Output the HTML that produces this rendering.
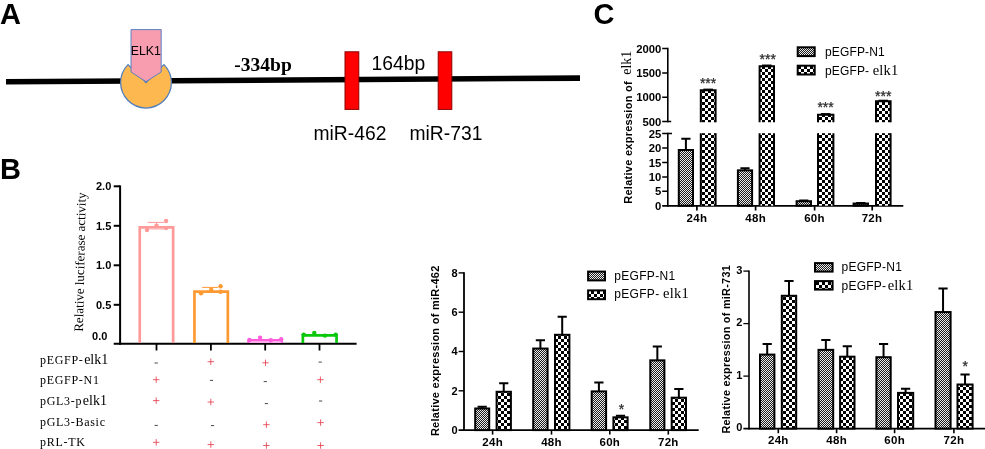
<!DOCTYPE html>
<html><head><meta charset="utf-8"><title>figure</title>
<style>
html,body{margin:0;padding:0;background:#fff;}
body{width:985px;height:449px;overflow:hidden;font-family:"Liberation Sans",sans-serif;}
svg{display:block;will-change:transform;}
text{font-family:"Liberation Sans",sans-serif;fill:#000;}
.b{font-weight:bold;}
.sf{font-family:"Liberation Serif",serif;}
</style></head><body>
<svg width="985" height="449" viewBox="0 0 985 449">
<defs>
<pattern id="chk" width="6" height="6" patternUnits="userSpaceOnUse">
<rect width="6" height="6" fill="#fff"/><rect x="0" y="0" width="3" height="3" fill="#000"/><rect x="3" y="3" width="3" height="3" fill="#000"/>
</pattern>
<pattern id="dot" width="2" height="2" patternUnits="userSpaceOnUse">
<rect width="2" height="2" fill="#1c1c1c"/><rect x="0" y="0" width="1" height="1" fill="#ececec"/><rect x="1" y="1" width="1" height="1" fill="#ececec"/>
</pattern>
</defs>
<rect width="985" height="449" fill="#fff"/>

<text class="b" x="0" y="24.2" font-size="29">A</text>
<text class="b" x="0" y="178.7" font-size="29">B</text>
<text class="b" x="593.5" y="24.3" font-size="29">C</text>
<line x1="6" y1="81.8" x2="580" y2="78.1" stroke="#000" stroke-width="5.6"/>
<path d="M146,82.6 L128.04,64.64 A25.4,25.4 0 1 0 163.96,64.64 Z" fill="#FDB94F" stroke="#4F7DBE" stroke-width="1.25"/>
<polygon points="131,29.6 161.2,29.6 161.2,72 146,81.7 131,72" fill="#F79DAF" stroke="#5B82C0" stroke-width="1"/>
<text x="130.7" y="55" font-size="12.3">ELK1</text>
<text class="sf b" x="234.3" y="70.8" font-size="19.5">-334bp</text>
<text x="371.5" y="70.2" font-size="19.3">164bp</text>
<rect x="345" y="51.8" width="13.8" height="57.6" fill="#FF0000" stroke="#8A0000" stroke-width="1"/>
<rect x="438.2" y="51.8" width="13.6" height="57.6" fill="#FF0000" stroke="#8A0000" stroke-width="1"/>
<text x="313.5" y="140.3" font-size="19.3">miR-462</text>
<text x="409.5" y="140.3" font-size="19.3">miR-731</text>
<line x1="120.1" y1="185.4" x2="120.1" y2="344.8" stroke="#000" stroke-width="2"/>
<line x1="113.7" y1="343.85" x2="356.6" y2="343.85" stroke="#000" stroke-width="2"/>
<line x1="113.7" y1="186.3" x2="120" y2="186.3" stroke="#000" stroke-width="2"/>
<text class="b" x="111.3" y="190.2" font-size="11" text-anchor="end">2.0</text>
<line x1="113.7" y1="225.8" x2="120" y2="225.8" stroke="#000" stroke-width="2"/>
<text class="b" x="111.3" y="229.7" font-size="11" text-anchor="end">1.5</text>
<line x1="113.7" y1="265.3" x2="120" y2="265.3" stroke="#000" stroke-width="2"/>
<text class="b" x="111.3" y="269.2" font-size="11" text-anchor="end">1.0</text>
<line x1="113.7" y1="304.8" x2="120" y2="304.8" stroke="#000" stroke-width="2"/>
<text class="b" x="111.3" y="308.7" font-size="11" text-anchor="end">0.5</text>
<text class="b" x="107.4" y="339.6" font-size="11" text-anchor="end">0.0</text>
<line x1="156.5" y1="344" x2="156.5" y2="350.5" stroke="#000" stroke-width="1.8"/>
<line x1="210.9" y1="344" x2="210.9" y2="350.5" stroke="#000" stroke-width="1.8"/>
<line x1="265.2" y1="344" x2="265.2" y2="350.5" stroke="#000" stroke-width="1.8"/>
<line x1="319.5" y1="344" x2="319.5" y2="350.5" stroke="#000" stroke-width="1.8"/>
<text class="sf" transform="translate(82.9,331.8) rotate(-88.8)" font-size="13" >Relative luciferase activity</text>
<path d="M139.75,343 V227.35 H173.15 V343" fill="none" stroke="#FF9A9A" stroke-width="2.7"/>
<path d="M147.6,222.4 H164 M156.5,222.4 V227" stroke="#FF9A9A" stroke-width="1" fill="none"/>
<path d="M147.6,229.4 H164" stroke="#FFD0D0" stroke-width="1" fill="none"/>
<circle cx="147" cy="230" r="2.2" fill="#FF9A9A"/>
<circle cx="156.5" cy="225.6" r="2.2" fill="#FF9A9A"/>
<circle cx="166.1" cy="221" r="2.2" fill="#FF9A9A"/>
<circle cx="166.1" cy="228" r="2.2" fill="#FF9A9A"/>
<path d="M194.45,343 V291.55 H227.85 V343" fill="none" stroke="#FF9A33" stroke-width="2.7"/>
<path d="M202.1,287.4 H218.2 M211.2,287.4 V291" stroke="#FF9A33" stroke-width="1" fill="none"/>
<circle cx="201.1" cy="293.2" r="2.2" fill="#FF9A33"/>
<circle cx="211.2" cy="289.8" r="2.2" fill="#FF9A33"/>
<circle cx="220.6" cy="286.2" r="2.2" fill="#FF9A33"/>
<circle cx="220.6" cy="291.8" r="2.2" fill="#FF9A33"/>
<path d="M248.65,343 V340.25 H281.65 V343" fill="none" stroke="#FF5CDC" stroke-width="2.7"/>
<rect x="249" y="341.3" width="32.3" height="1.6" fill="#FFA8EC"/>
<circle cx="249.5" cy="340" r="2.2" fill="#FF5CDC"/>
<circle cx="260.1" cy="337.8" r="2.2" fill="#FF5CDC"/>
<circle cx="270.7" cy="340.2" r="2.2" fill="#FF5CDC"/>
<circle cx="281.2" cy="339.2" r="2.2" fill="#FF5CDC"/>
<path d="M302.85,343 V335.35 H336.55 V343" fill="none" stroke="#0CC80C" stroke-width="2.7"/>
<circle cx="303.7" cy="334.6" r="2.2" fill="#0CC80C"/>
<circle cx="314.3" cy="332.9" r="2.2" fill="#0CC80C"/>
<circle cx="324.9" cy="335.6" r="2.2" fill="#0CC80C"/>
<circle cx="335.7" cy="334.6" r="2.2" fill="#0CC80C"/>
<text class="sf" x="40" y="364.2" font-size="12" letter-spacing="0.7">pEGFP-<tspan font-size="14" letter-spacing="0" dx="0.6">elk1</tspan></text>
<text class="sf" x="40" y="384.4" font-size="12" letter-spacing="0.7">pEGFP-N1</text>
<text class="sf" x="40" y="404.7" font-size="12" letter-spacing="0.7">pGL3-p<tspan font-size="14" letter-spacing="0" dx="0.6">elk1</tspan></text>
<text class="sf" x="40" y="425.6" font-size="12" letter-spacing="0.7">pGL3-Basic</text>
<text class="sf" x="40" y="446.4" font-size="12" letter-spacing="0.7">pRL-TK</text>
<path d="M154.6,363 H157.8" stroke="#333" stroke-width="0.9" fill="none"/>
<path d="M153.0,379.7 H159.4 M156.2,376.5 V382.9" stroke="#E5404E" stroke-width="0.85" fill="none"/>
<path d="M153.0,400.6 H159.4 M156.2,397.4 V403.8" stroke="#E5404E" stroke-width="0.85" fill="none"/>
<path d="M154.6,425.4 H157.8" stroke="#333" stroke-width="0.9" fill="none"/>
<path d="M153.0,442.3 H159.4 M156.2,439.1 V445.5" stroke="#E5404E" stroke-width="0.85" fill="none"/>
<path d="M207.6,361.7 H214.0 M210.8,358.5 V364.9" stroke="#E5404E" stroke-width="0.85" fill="none"/>
<path d="M209.9,380.4 H213.1" stroke="#333" stroke-width="0.9" fill="none"/>
<path d="M207.6,402 H214.0 M210.8,398.8 V405.2" stroke="#E5404E" stroke-width="0.85" fill="none"/>
<path d="M210.9,425.6 H214.1" stroke="#333" stroke-width="0.9" fill="none"/>
<path d="M207.6,444.6 H214.0 M210.8,441.4 V447.8" stroke="#E5404E" stroke-width="0.85" fill="none"/>
<path d="M262.3,362.8 H268.7 M265.5,359.6 V366.0" stroke="#E5404E" stroke-width="0.85" fill="none"/>
<path d="M263.7,381.6 H266.9" stroke="#333" stroke-width="0.9" fill="none"/>
<path d="M264.8,403.6 H268.0" stroke="#333" stroke-width="0.9" fill="none"/>
<path d="M263.2,424.7 H269.6 M266.4,421.5 V427.9" stroke="#E5404E" stroke-width="0.85" fill="none"/>
<path d="M263.2,445.5 H269.6 M266.4,442.3 V448.7" stroke="#E5404E" stroke-width="0.85" fill="none"/>
<path d="M318.6,362.1 H321.8" stroke="#333" stroke-width="0.9" fill="none"/>
<path d="M317.2,379.7 H323.6 M320.4,376.5 V382.9" stroke="#E5404E" stroke-width="0.85" fill="none"/>
<path d="M319.0,401 H322.2" stroke="#333" stroke-width="0.9" fill="none"/>
<path d="M317.4,422.6 H323.8 M320.6,419.4 V425.8" stroke="#E5404E" stroke-width="0.85" fill="none"/>
<path d="M317.4,445.5 H323.8 M320.6,442.3 V448.7" stroke="#E5404E" stroke-width="0.85" fill="none"/>
<path d="M662.2,48.6 H667.7 M662.2,73 H667.7 M662.2,97.3 H667.7 M662.2,121.6 H671.2" stroke="#000" stroke-width="1.5" fill="none"/>
<line x1="667.8" y1="47.85" x2="667.8" y2="122.35" stroke="#000" stroke-width="1.6"/>
<path d="M662.2,133.6 H672 M662.2,148 H667.7 M662.2,162.5 H667.7 M662.2,176.9 H667.7 M662.2,191.3 H667.7" stroke="#000" stroke-width="1.5" fill="none"/>
<line x1="667.8" y1="132.85" x2="667.8" y2="206.8" stroke="#000" stroke-width="1.6"/>
<line x1="662.2" y1="205.9" x2="903.3" y2="205.9" stroke="#000" stroke-width="1.9"/>
<line x1="696.9" y1="205.9" x2="696.9" y2="210.5" stroke="#000" stroke-width="1.7"/>
<line x1="755.6" y1="205.9" x2="755.6" y2="210.5" stroke="#000" stroke-width="1.7"/>
<line x1="814.6" y1="205.9" x2="814.6" y2="210.5" stroke="#000" stroke-width="1.7"/>
<line x1="872.2" y1="205.9" x2="872.2" y2="210.5" stroke="#000" stroke-width="1.7"/>
<text class="b" x="661.4" y="52.6" font-size="11.3" text-anchor="end">2000</text>
<text class="b" x="661.4" y="77.0" font-size="11.3" text-anchor="end">1500</text>
<text class="b" x="661.4" y="101.3" font-size="11.3" text-anchor="end">1000</text>
<text class="b" x="661.4" y="125.6" font-size="11.3" text-anchor="end">500</text>
<text class="b" x="661.4" y="137.6" font-size="11.3" text-anchor="end">25</text>
<text class="b" x="661.4" y="152.0" font-size="11.3" text-anchor="end">20</text>
<text class="b" x="661.4" y="166.5" font-size="11.3" text-anchor="end">15</text>
<text class="b" x="661.4" y="180.9" font-size="11.3" text-anchor="end">10</text>
<text class="b" x="661.4" y="195.3" font-size="11.3" text-anchor="end">5</text>
<text class="b" x="661.4" y="209.7" font-size="11.3" text-anchor="end">0</text>
<path d="M685.90,150.00 V138.74 M681.30,138.74 H690.50" stroke="#000" stroke-width="2" fill="none"/>
<rect x="678.80" y="150.00" width="14.20" height="55.70" fill="url(#dot)" stroke="#000" stroke-width="2"/>
<path d="M745.00,170.35 V168.18 M740.40,168.18 H749.60" stroke="#000" stroke-width="2" fill="none"/>
<rect x="737.90" y="170.35" width="14.20" height="35.35" fill="url(#dot)" stroke="#000" stroke-width="2"/>
<path d="M803.80,201.23 V200.51 M799.20,200.51 H808.40" stroke="#000" stroke-width="2" fill="none"/>
<rect x="796.60" y="201.23" width="14.40" height="4.47" fill="url(#dot)" stroke="#000" stroke-width="2"/>
<path d="M860.80,203.54 V202.96 M856.20,202.96 H865.40" stroke="#000" stroke-width="2" fill="none"/>
<rect x="853.60" y="203.54" width="14.40" height="2.16" fill="url(#dot)" stroke="#000" stroke-width="2"/>
<rect x="700.8" y="133.2" width="14.80" height="72.5" fill="url(#chk)"/>
<path d="M700.8,133.2 V205.7 M715.6,133.2 V205.7" stroke="#000" stroke-width="2"/>
<rect x="700.8" y="90.21" width="14.80" height="31.99" fill="url(#chk)"/>
<path d="M700.8,122.2 V90.21 H715.6 V122.2" stroke="#000" stroke-width="2" fill="none"/>
<path d="M703.4000000000001,89.61 H713.0" stroke="#000" stroke-width="2"/>
<rect x="759.6" y="133.2" width="14.40" height="72.5" fill="url(#chk)"/>
<path d="M759.6,133.2 V205.7 M774,133.2 V205.7" stroke="#000" stroke-width="2"/>
<rect x="759.6" y="66.13" width="14.40" height="56.07" fill="url(#chk)"/>
<path d="M759.6,122.2 V66.13 H774 V122.2" stroke="#000" stroke-width="2" fill="none"/>
<path d="M762.0,65.53 H771.5999999999999" stroke="#000" stroke-width="2"/>
<rect x="818" y="133.2" width="15.40" height="72.5" fill="url(#chk)"/>
<path d="M818,133.2 V205.7 M833.4,133.2 V205.7" stroke="#000" stroke-width="2"/>
<rect x="818" y="114.69" width="15.40" height="7.51" fill="url(#chk)"/>
<path d="M818,122.2 V114.69 H833.4 V122.2" stroke="#000" stroke-width="2" fill="none"/>
<path d="M820.9000000000001,114.09 H830.5" stroke="#000" stroke-width="2"/>
<rect x="876" y="133.2" width="14.60" height="72.5" fill="url(#chk)"/>
<path d="M876,133.2 V205.7 M890.6,133.2 V205.7" stroke="#000" stroke-width="2"/>
<rect x="876" y="101.31" width="14.60" height="20.89" fill="url(#chk)"/>
<path d="M876,122.2 V101.31 H890.6 V122.2" stroke="#000" stroke-width="2" fill="none"/>
<path d="M878.5,100.71 H888.0999999999999" stroke="#000" stroke-width="2"/>
<text class="b" x="696.9" y="222.3" font-size="11.5" letter-spacing="0.3" text-anchor="middle">24h</text>
<text class="b" x="755.6" y="222.3" font-size="11.5" letter-spacing="0.3" text-anchor="middle">48h</text>
<text class="b" x="814.5" y="222.3" font-size="11.5" letter-spacing="0.3" text-anchor="middle">60h</text>
<text class="b" x="872" y="222.3" font-size="11.5" letter-spacing="0.3" text-anchor="middle">72h</text>
<text x="708.1" y="88.3" font-size="14" text-anchor="middle" style="fill:#2a2a2a;stroke:#2a2a2a;stroke-width:0.25">***</text>
<text x="767.8" y="64.3" font-size="14" text-anchor="middle" style="fill:#2a2a2a;stroke:#2a2a2a;stroke-width:0.25">***</text>
<text x="825.6" y="111.5" font-size="14" text-anchor="middle" style="fill:#2a2a2a;stroke:#2a2a2a;stroke-width:0.25">***</text>
<text x="883.3" y="100.8" font-size="14" text-anchor="middle" style="fill:#2a2a2a;stroke:#2a2a2a;stroke-width:0.25">***</text>
<rect x="797.7" y="47.3" width="17" height="8.8" fill="url(#dot)" stroke="#000" stroke-width="2"/>
<rect x="797.7" y="65.7" width="17" height="8.8" fill="url(#chk)" stroke="#000" stroke-width="2"/>
<text x="825" y="56" font-size="12" letter-spacing="0.15">pEGFP-N1</text>
<text x="825" y="74.5" font-size="12" letter-spacing="0.15">pEGFP- <tspan class="sf" font-size="14.5" letter-spacing="0.2" dx="0">elk1</tspan></text>
<text class="b" transform="translate(631.5,203.8) rotate(-90)" font-size="11" letter-spacing="0.27">Relative expression of <tspan class="sf" font-size="14" font-weight="normal" letter-spacing="0" dx="3" dy="-0.8">elk1</tspan></text>
<line x1="464" y1="272.2" x2="464" y2="430.9" stroke="#000" stroke-width="1.8"/>
<line x1="458.6" y1="430.1" x2="698.7" y2="430.1" stroke="#000" stroke-width="1.7"/>
<line x1="458.6" y1="272.9" x2="464" y2="272.9" stroke="#000" stroke-width="1.4"/>
<text class="b" x="457.6" y="276.9" font-size="11" text-anchor="end">8</text>
<line x1="458.6" y1="312.2" x2="464" y2="312.2" stroke="#000" stroke-width="1.4"/>
<text class="b" x="457.6" y="316.2" font-size="11" text-anchor="end">6</text>
<line x1="458.6" y1="351.5" x2="464" y2="351.5" stroke="#000" stroke-width="1.4"/>
<text class="b" x="457.6" y="355.4" font-size="11" text-anchor="end">4</text>
<line x1="458.6" y1="390.8" x2="464" y2="390.8" stroke="#000" stroke-width="1.4"/>
<text class="b" x="457.6" y="394.8" font-size="11" text-anchor="end">2</text>
<text class="b" x="457.6" y="434.1" font-size="11" text-anchor="end">0</text>
<path d="M482.20,408.49 V406.72 M477.60,406.72 H486.80" stroke="#000" stroke-width="2" fill="none"/>
<rect x="475.20" y="408.49" width="14.00" height="21.62" fill="url(#dot)" stroke="#000" stroke-width="2"/>
<path d="M503.75,391.78 V383.33 M499.15,383.33 H508.35" stroke="#000" stroke-width="2" fill="none"/>
<rect x="496.60" y="391.78" width="14.30" height="38.32" fill="url(#chk)" stroke="#000" stroke-width="2"/>
<path d="M540.40,348.55 V340.30 M535.80,340.30 H545.00" stroke="#000" stroke-width="2" fill="none"/>
<rect x="533.20" y="348.55" width="14.40" height="81.55" fill="url(#dot)" stroke="#000" stroke-width="2"/>
<path d="M562.20,334.80 V316.72 M557.60,316.72 H566.80" stroke="#000" stroke-width="2" fill="none"/>
<rect x="555.00" y="334.80" width="14.40" height="95.30" fill="url(#chk)" stroke="#000" stroke-width="2"/>
<path d="M598.90,391.39 V382.55 M594.30,382.55 H603.50" stroke="#000" stroke-width="2" fill="none"/>
<rect x="591.70" y="391.39" width="14.40" height="38.71" fill="url(#dot)" stroke="#000" stroke-width="2"/>
<path d="M620.50,417.33 V415.76 M615.90,415.76 H625.10" stroke="#000" stroke-width="2" fill="none"/>
<rect x="613.40" y="417.33" width="14.20" height="12.77" fill="url(#chk)" stroke="#000" stroke-width="2"/>
<path d="M657.35,360.34 V346.59 M652.75,346.59 H661.95" stroke="#000" stroke-width="2" fill="none"/>
<rect x="650.30" y="360.34" width="14.10" height="69.76" fill="url(#dot)" stroke="#000" stroke-width="2"/>
<path d="M678.85,397.68 V389.03 M674.25,389.03 H683.45" stroke="#000" stroke-width="2" fill="none"/>
<rect x="671.70" y="397.68" width="14.30" height="32.42" fill="url(#chk)" stroke="#000" stroke-width="2"/>
<line x1="492.6" y1="430" x2="492.6" y2="434.6" stroke="#000" stroke-width="1.6"/>
<text class="b" x="492.6" y="445.8" font-size="11.5" letter-spacing="0.3" text-anchor="middle">24h</text>
<line x1="551.5" y1="430" x2="551.5" y2="434.6" stroke="#000" stroke-width="1.6"/>
<text class="b" x="551.5" y="445.8" font-size="11.5" letter-spacing="0.3" text-anchor="middle">48h</text>
<line x1="609.8" y1="430" x2="609.8" y2="434.6" stroke="#000" stroke-width="1.6"/>
<text class="b" x="609.8" y="445.8" font-size="11.5" letter-spacing="0.3" text-anchor="middle">60h</text>
<line x1="668.3" y1="430" x2="668.3" y2="434.6" stroke="#000" stroke-width="1.6"/>
<text class="b" x="668.3" y="445.8" font-size="11.5" letter-spacing="0.3" text-anchor="middle">72h</text>
<rect x="588.1" y="271.6" width="16.9" height="8.8" fill="url(#dot)" stroke="#000" stroke-width="2"/>
<rect x="588.1" y="290.4" width="16.9" height="8.8" fill="url(#chk)" stroke="#000" stroke-width="2"/>
<text x="614.3" y="279.7" font-size="12" letter-spacing="0.3">pEGFP-N1</text>
<text x="614.3" y="297.9" font-size="12" letter-spacing="0.3">pEGFP- <tspan class="sf" font-size="14.5" letter-spacing="0.2" dx="0">elk1</tspan></text>
<text x="621.5" y="414.2" font-size="14" text-anchor="middle" style="fill:#2a2a2a;stroke:#2a2a2a;stroke-width:0.25">*</text>
<text class="b" transform="translate(439.4,436.1) rotate(-90)" font-size="11" letter-spacing="0.27">Relative expression of miR-462</text>
<line x1="749" y1="270.5" x2="749" y2="429.4" stroke="#000" stroke-width="1.6"/>
<line x1="743.4" y1="428.6" x2="985" y2="428.6" stroke="#000" stroke-width="1.7"/>
<line x1="743.4" y1="271.1" x2="749" y2="271.1" stroke="#000" stroke-width="1.3"/>
<text class="b" x="742.4" y="273.6" font-size="11" text-anchor="end">3</text>
<line x1="743.4" y1="323.6" x2="749" y2="323.6" stroke="#000" stroke-width="1.3"/>
<text class="b" x="742.4" y="326.1" font-size="11" text-anchor="end">2</text>
<line x1="743.4" y1="376.1" x2="749" y2="376.1" stroke="#000" stroke-width="1.3"/>
<text class="b" x="742.4" y="378.6" font-size="11" text-anchor="end">1</text>
<text class="b" x="742.4" y="431.1" font-size="11" text-anchor="end">0</text>
<path d="M767.20,354.58 V344.08 M762.60,344.08 H771.80" stroke="#000" stroke-width="2" fill="none"/>
<rect x="760.00" y="354.58" width="14.40" height="74.02" fill="url(#dot)" stroke="#000" stroke-width="2"/>
<path d="M789.00,295.78 V281.08 M784.40,281.08 H793.60" stroke="#000" stroke-width="2" fill="none"/>
<rect x="781.80" y="295.78" width="14.40" height="132.82" fill="url(#chk)" stroke="#000" stroke-width="2"/>
<path d="M825.85,349.85 V339.88 M821.25,339.88 H830.45" stroke="#000" stroke-width="2" fill="none"/>
<rect x="818.50" y="349.85" width="14.70" height="78.75" fill="url(#dot)" stroke="#000" stroke-width="2"/>
<path d="M847.30,356.68 V346.18 M842.70,346.18 H851.90" stroke="#000" stroke-width="2" fill="none"/>
<rect x="840.10" y="356.68" width="14.40" height="71.93" fill="url(#chk)" stroke="#000" stroke-width="2"/>
<path d="M883.55,357.20 V344.08 M878.95,344.08 H888.15" stroke="#000" stroke-width="2" fill="none"/>
<rect x="876.40" y="357.20" width="14.30" height="71.40" fill="url(#dot)" stroke="#000" stroke-width="2"/>
<path d="M905.60,392.90 V388.70 M901.00,388.70 H910.20" stroke="#000" stroke-width="2" fill="none"/>
<rect x="898.00" y="392.90" width="15.20" height="35.70" fill="url(#chk)" stroke="#000" stroke-width="2"/>
<path d="M943.05,312.05 V288.43 M938.45,288.43 H947.65" stroke="#000" stroke-width="2" fill="none"/>
<rect x="935.50" y="312.05" width="15.10" height="116.55" fill="url(#dot)" stroke="#000" stroke-width="2"/>
<path d="M965.05,384.50 V374.53 M960.45,374.53 H969.65" stroke="#000" stroke-width="2" fill="none"/>
<rect x="957.50" y="384.50" width="15.10" height="44.10" fill="url(#chk)" stroke="#000" stroke-width="2"/>
<line x1="778.3" y1="428.6" x2="778.3" y2="433.2" stroke="#000" stroke-width="1.6"/>
<text class="b" x="778.3" y="443.9" font-size="11.5" letter-spacing="0.3" text-anchor="middle">24h</text>
<line x1="836.6" y1="428.6" x2="836.6" y2="433.2" stroke="#000" stroke-width="1.6"/>
<text class="b" x="836.6" y="443.9" font-size="11.5" letter-spacing="0.3" text-anchor="middle">48h</text>
<line x1="894.6" y1="428.6" x2="894.6" y2="433.2" stroke="#000" stroke-width="1.6"/>
<text class="b" x="894.6" y="443.9" font-size="11.5" letter-spacing="0.3" text-anchor="middle">60h</text>
<line x1="953.9" y1="428.6" x2="953.9" y2="433.2" stroke="#000" stroke-width="1.6"/>
<text class="b" x="953.9" y="443.9" font-size="11.5" letter-spacing="0.3" text-anchor="middle">72h</text>
<rect x="815" y="263.1" width="17.6" height="8.5" fill="url(#dot)" stroke="#000" stroke-width="2"/>
<rect x="815" y="281.1" width="17.6" height="8.5" fill="url(#chk)" stroke="#000" stroke-width="2"/>
<text x="841.5" y="271" font-size="12" letter-spacing="0.25">pEGFP-N1</text>
<text x="841.5" y="289.5" font-size="12" letter-spacing="0.25">pEGFP-<tspan class="sf" font-size="14.5" letter-spacing="0.2" dx="1.3">elk1</tspan></text>
<text x="965.2" y="370.7" font-size="14" text-anchor="middle" style="fill:#2a2a2a;stroke:#2a2a2a;stroke-width:0.25">*</text>
<text class="b" transform="translate(729.9,433.6) rotate(-90)" font-size="10.8" letter-spacing="0.3">Relative expression of miR-731</text>
</svg></body></html>
